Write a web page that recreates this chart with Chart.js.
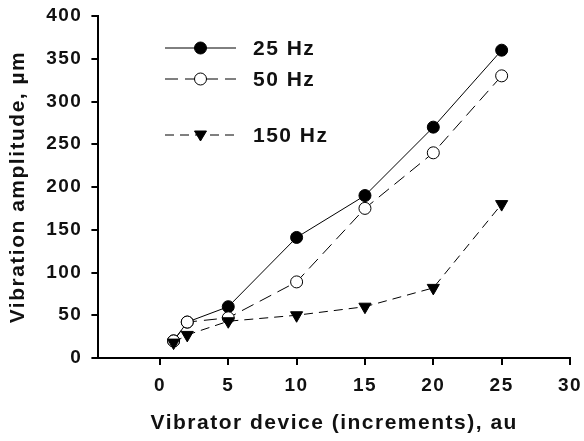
<!DOCTYPE html>
<html><head><meta charset="utf-8">
<script src="https://cdn.jsdelivr.net/npm/chart.js@4/dist/chart.umd.min.js"></script>
<style>html,body{margin:0;padding:0;background:#fff}#wrap{width:584px;height:441px}</style>
</head><body><div id="wrap"><canvas id="c" width="584" height="441"></canvas></div>
<script>
const xTicks = [0, 5, 10, 15, 20, 25, 30];
const yTicks = [0, 50, 100, 150, 200, 250, 300, 350, 400];
const x25 = [1, 2, 5, 10, 15, 20, 25];
const y25 = [20, 42, 60, 141, 190, 270, 360];
const x50 = [1, 2, 5, 10, 15, 20, 25];
const y50 = [20, 42, 47, 89, 175, 240, 330];
const x150 = [1, 2, 5, 10, 15, 20, 25];
const y150 = [18, 27, 43, 50, 60, 82, 180];
const seriesNames = ['25 Hz', '50 Hz', '150 Hz'];

const pts = (xs, ys) => xs.map((x, i) => ({x: x, y: ys[i]}));
const FONT = "Arial, 'Liberation Sans', Helvetica, sans-serif";
const TXT = '#111';
const SPACING = '1.5px';

const spacingPlugin = {
  id: 'spacing',
  beforeUpdate(chart) { chart.ctx.letterSpacing = SPACING; },
  beforeLayout(chart) { chart.ctx.letterSpacing = SPACING; },
  beforeDraw(chart) { chart.ctx.letterSpacing = SPACING; }
};

const legendPlugin = {
  id: 'customLegend',
  afterDatasetsDraw(chart) {
    const ctx = chart.ctx;
    const rows = [48, 79, 135];
    const x0 = 165, x1 = 236, tx = 253;
    ctx.save();
    chart.data.datasets.forEach((ds, i) => {
      const y = rows[i];
      ctx.strokeStyle = '#000';
      ctx.lineWidth = 1;
      ctx.setLineDash(ds.borderDash || []);
      ctx.beginPath(); ctx.moveTo(x0, y); ctx.lineTo(x1, y); ctx.stroke();
      ctx.setLineDash([]);
      const cx = (x0 + x1) / 2;
      ctx.fillStyle = ds.pointBackgroundColor;
      ctx.beginPath();
      if (ds.pointStyle === 'triangle') {
        ctx.moveTo(cx - 6, y - 4); ctx.lineTo(cx + 6, y - 4); ctx.lineTo(cx, y + 6); ctx.closePath();
      } else {
        ctx.arc(cx, y, 6, 0, Math.PI * 2);
      }
      ctx.fill(); ctx.stroke();
      ctx.fillStyle = TXT;
      ctx.letterSpacing = SPACING;
      ctx.font = "bold 21px " + FONT;
      ctx.textBaseline = 'middle';
      ctx.textAlign = 'left';
      ctx.fillText(ds.label, tx, y + 1);
    });
    ctx.restore();
  }
};

new Chart(document.getElementById('c'), {
  type: 'scatter',
  data: {
    datasets: [
      {label: seriesNames[0], data: pts(x25, y25), showLine: true, order: 3, borderColor: '#000', borderWidth: 1,
       pointStyle: 'circle', pointRadius: 6, pointBackgroundColor: '#000', pointBorderColor: '#000', pointBorderWidth: 1},
      {label: seriesNames[1], data: pts(x50, y50), showLine: true, order: 2, borderColor: '#000', borderWidth: 1, borderDash: [13, 7],
       pointStyle: 'circle', pointRadius: 6, pointBackgroundColor: '#fff', pointBorderColor: '#000', pointBorderWidth: 1},
      {label: seriesNames[2], data: pts(x150, y150), showLine: true, order: 1, borderColor: '#000', borderWidth: 1, borderDash: [9, 6],
       pointStyle: 'triangle', pointRotation: 180, pointRadius: 7, pointBackgroundColor: '#000', pointBorderColor: '#000', pointBorderWidth: 1}
    ]
  },
  options: {
    responsive: false,
    animation: false,
    layout: {padding: {top: 0, right: 0, left: 6, bottom: 5}},
    plugins: {legend: {display: false}, tooltip: {enabled: false}},
    scales: {
      x: {
        type: 'linear', min: -4.5, max: 30,
        afterBuildTicks: (ax) => { ax.ticks = xTicks.map(v => ({value: v})); },
        afterFit: (s) => { s.paddingRight = 14; },
        grid: {drawOnChartArea: false, drawTicks: true, tickLength: 7, color: '#000', lineWidth: 2},
        border: {display: true, color: '#000', width: 2},
        ticks: {color: TXT, font: {family: FONT, size: 19, weight: 'bold'}, padding: 9, maxRotation: 0},
        title: {display: true, text: 'Vibrator device (increments), au', color: TXT,
                font: {family: FONT, size: 21, weight: 'bold'}, padding: {top: 5, bottom: 0}}
      },
      y: {
        type: 'linear', min: 0, max: 400,
        afterBuildTicks: (ax) => { ax.ticks = yTicks.map(v => ({value: v})); },
        afterFit: (s) => { s.paddingTop = 16; },
        grid: {drawOnChartArea: false, drawTicks: true, tickLength: 7, color: '#000', lineWidth: 2},
        border: {display: true, color: '#000', width: 2},
        ticks: {color: TXT, font: {family: FONT, size: 19, weight: 'bold'}, padding: 9},
        title: {display: true, text: 'Vibration amplitude, µm', color: TXT,
                font: {family: FONT, size: 21, weight: 'bold'}, padding: {top: 0, bottom: 6}}
      }
    }
  },
  plugins: [spacingPlugin, legendPlugin]
});
</script></body></html>
